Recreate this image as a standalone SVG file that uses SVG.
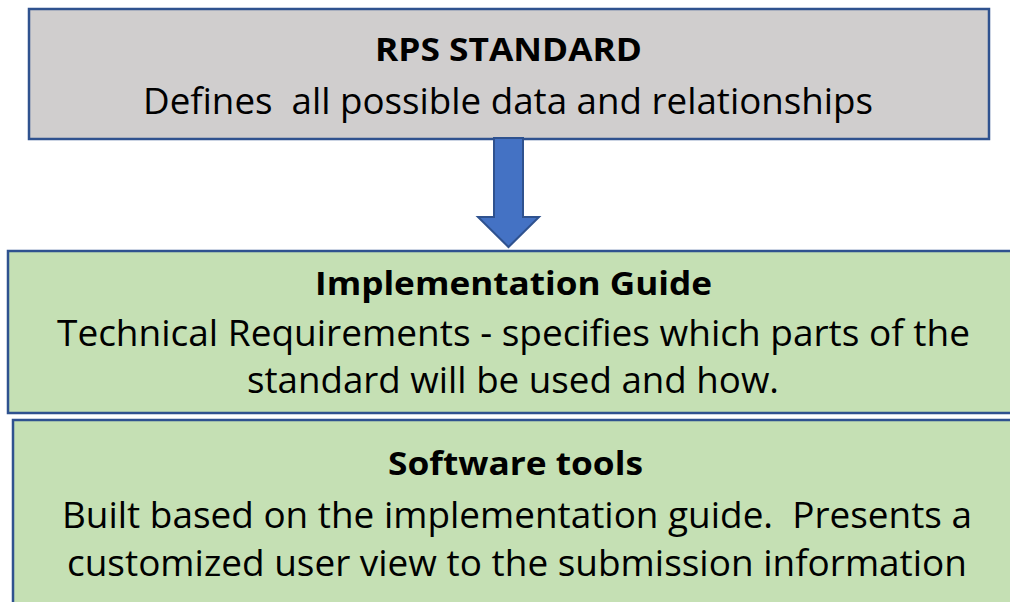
<svg xmlns="http://www.w3.org/2000/svg" width="1010" height="602" viewBox="0 0 1010 602">
<style>
.box{stroke:#2F528F;stroke-width:2.5}
.gray{fill:#D0CECE}
.green{fill:#C5E0B4}
text{font-family:"Open Sans","Liberation Sans",sans-serif;font-size:37px;fill:#000;text-anchor:start}
.b{font-weight:bold;font-size:32px}
</style>
<rect width="1010" height="602" fill="#FFFFFF"/>
<g id="rps-standard">
<rect class="box gray" x="29" y="9" width="960" height="130"/>
<text class="b" x="375" y="61" textLength="267" lengthAdjust="spacingAndGlyphs">RPS STANDARD</text>
<text x="143" y="114" textLength="730" lengthAdjust="spacingAndGlyphs" xml:space="preserve">Defines  all possible data and relationships</text>
</g>
<g id="connectors">
<polygon points="494,138 523,138 523,217 539,217 508.5,247 478,217 494,217" fill="#4472C4" stroke="#2F528F" stroke-width="2" stroke-linejoin="miter"/>
</g>
<g id="implementation-guide">
<rect class="box green" x="8" y="251" width="1020" height="162"/>
<text class="b" x="315" y="295" textLength="397" lengthAdjust="spacingAndGlyphs">Implementation Guide</text>
<text x="57" y="346" textLength="913" lengthAdjust="spacingAndGlyphs">Technical Requirements - specifies which parts of the</text>
<text x="247" y="393" textLength="532" lengthAdjust="spacingAndGlyphs">standard will be used and how.</text>
</g>
<g id="software-tools">
<rect class="box green" x="13" y="420" width="1020" height="200"/>
<text class="b" x="388" y="475" textLength="255" lengthAdjust="spacingAndGlyphs">Software tools</text>
<text x="62" y="528" textLength="910" lengthAdjust="spacingAndGlyphs" xml:space="preserve">Built based on the implementation guide.  Presents a</text>
<text x="67" y="576" textLength="900" lengthAdjust="spacingAndGlyphs">customized user view to the submission information</text>
</g>
</svg>
